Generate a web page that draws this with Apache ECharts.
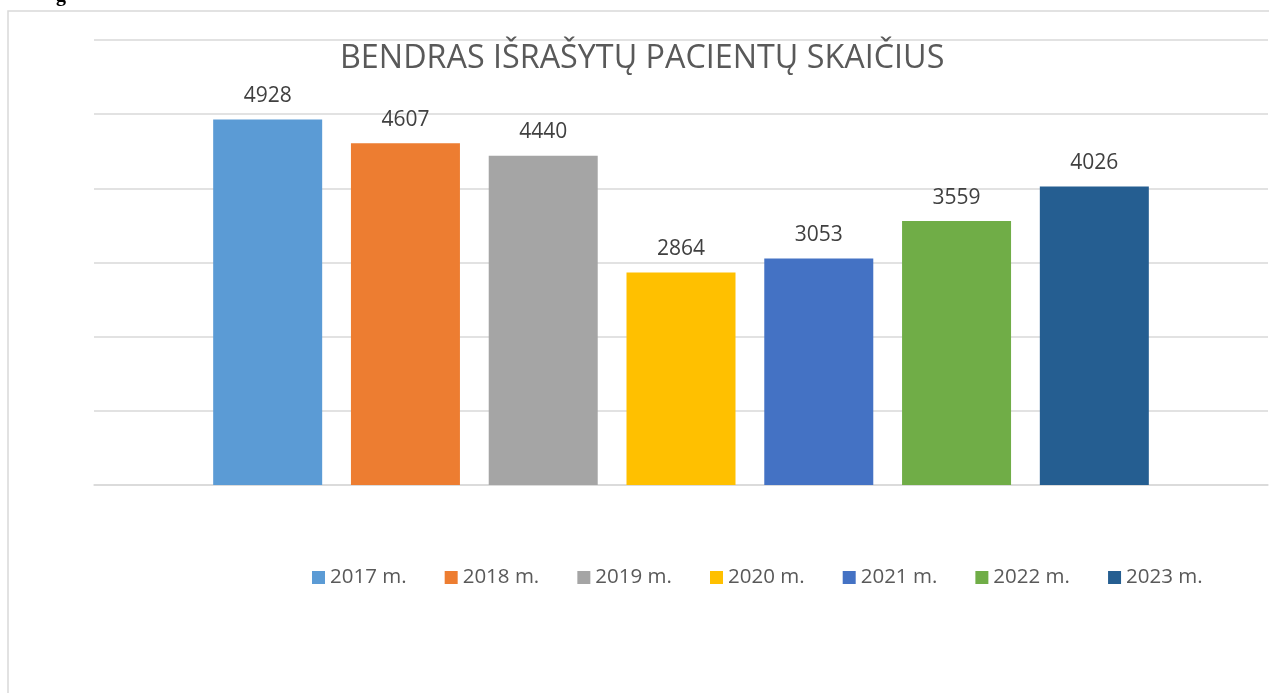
<!DOCTYPE html>
<html>
<head>
<meta charset="utf-8">
<script src="https://cdn.jsdelivr.net/npm/echarts@6/dist/echarts.min.js"></script>
<style>
html, body { margin: 0; padding: 0; background: #fff; }
#main { width: 1269px; height: 693px; }
</style>
</head>
<body>
<div id="main"></div>
<script>
// duomenys
var years = ['2017 m.', '2018 m.', '2019 m.', '2020 m.', '2021 m.', '2022 m.', '2023 m.'];
var patients = [4928, 4607, 4440, 2864, 3053, 3559, 4026];
var barColors = ['#5B9BD5', '#ED7D31', '#A5A5A5', '#FFC000', '#4472C4', '#70AD47', '#255E91'];
var yTicks = [0, 1000, 2000, 3000, 4000, 5000, 6000];

var myChart = echarts.init(document.getElementById('main'));

var series = [];
for (var i = 0; i < years.length; i++) {
    series.push({
        name: years[i],
        type: 'bar',
        barWidth: 109,
        barGap: '26.4%',
        itemStyle: { color: barColors[i] },
        label: {
            show: true,
            position: 'top',
            distance: 13,
            color: '#404040',
            fontFamily: 'Open Sans',
            fontSize: 21
        },
        data: [patients[i]]
    });
}

var option = {
    animation: false,
    backgroundColor: '#fff',
    title: {
        text: 'BENDRAS IŠRAŠYTŲ PACIENTŲ SKAIČIUS',
        left: 335,
        top: 38,
        textStyle: {
            color: '#595959',
            fontFamily: 'Open Sans',
            fontWeight: 'normal',
            fontSize: 32.3
        }
    },
    legend: {
        data: years,
        left: 307,
        top: 562,
        itemWidth: 13,
        itemHeight: 13,
        itemGap: 38.1,
        icon: 'rect',
        textStyle: {
            color: '#595959',
            fontFamily: 'Open Sans',
            fontSize: 20.5
        }
    },
    grid: { left: 94, right: 1, top: 40, bottom: 208 },
    xAxis: {
        type: 'category',
        data: [''],
        axisLine: { lineStyle: { color: '#D9D9D9', width: 1.5 } },
        axisTick: { show: false },
        axisLabel: { show: false }
    },
    yAxis: {
        type: 'value',
        min: yTicks[0],
        max: yTicks[yTicks.length - 1],
        interval: yTicks[1] - yTicks[0],
        axisLabel: { show: false },
        axisLine: { show: false },
        axisTick: { show: false },
        splitLine: { lineStyle: { color: '#D9D9D9', width: 1.5 } }
    },
    graphic: [
        {
            type: 'rect',
            shape: { x: 8, y: 11, width: 1300, height: 720 },
            style: { fill: null, stroke: '#D9D9D9', lineWidth: 1.5 },
            silent: true
        },
        {
            type: 'text',
            x: 56,
            y: -14,
            style: {
                text: 'g',
                font: 'bold 20px "Liberation Serif"',
                fill: '#000'
            }
        }
    ],
    series: series
};

myChart.setOption(option);
</script>
</body>
</html>
